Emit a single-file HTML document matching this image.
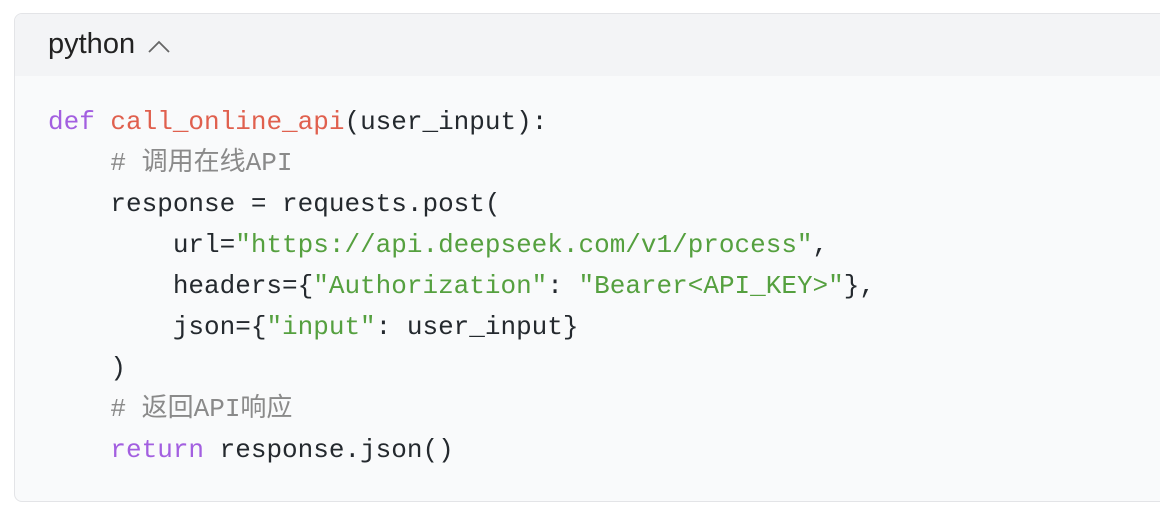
<!DOCTYPE html>
<html><head><meta charset="utf-8"><style>
body{margin:0;background:#fff;width:1160px;height:520px;overflow:hidden}
.box{position:absolute;left:14px;top:13px;width:1170px;height:487px;border:1px solid #e3e4e7;border-radius:8px;background:#f9fafb;overflow:hidden}
.hd{height:62px;background:#f3f4f6;position:relative}
.hd span{position:absolute;left:33px;top:14px;font:29px "Liberation Sans","Noto Sans CJK SC",sans-serif;color:#222}
.hd svg{position:absolute;left:132px;top:25px}
pre{position:absolute;left:33px;top:88px;margin:0;font:26px/41px "Liberation Mono","Noto Sans CJK SC",monospace;color:#24292e}
.k{color:#a35fe0}.f{color:#e0604e}.s{color:#55a03f}.c{color:#8a8a8a}
</style></head><body>
<div class="box"><div class="hd"><span>python</span><svg width="24" height="16"><polyline points="2,13 12,3 22,13" fill="none" stroke="#666" stroke-width="1.8"/></svg></div>
<pre><span class="k">def</span> <span class="f">call_online_api</span>(user_input):
    <span class="c"># 调用在线API</span>
    response = requests.post(
        url=<span class="s">"https://api.deepseek.com/v1/process"</span>,
        headers={<span class="s">"Authorization"</span>: <span class="s">"Bearer&lt;API_KEY&gt;"</span>},
        json={<span class="s">"input"</span>: user_input}
    )
    <span class="c"># 返回API响应</span>
    <span class="k">return</span> response.json()</pre></div>
</body></html>
